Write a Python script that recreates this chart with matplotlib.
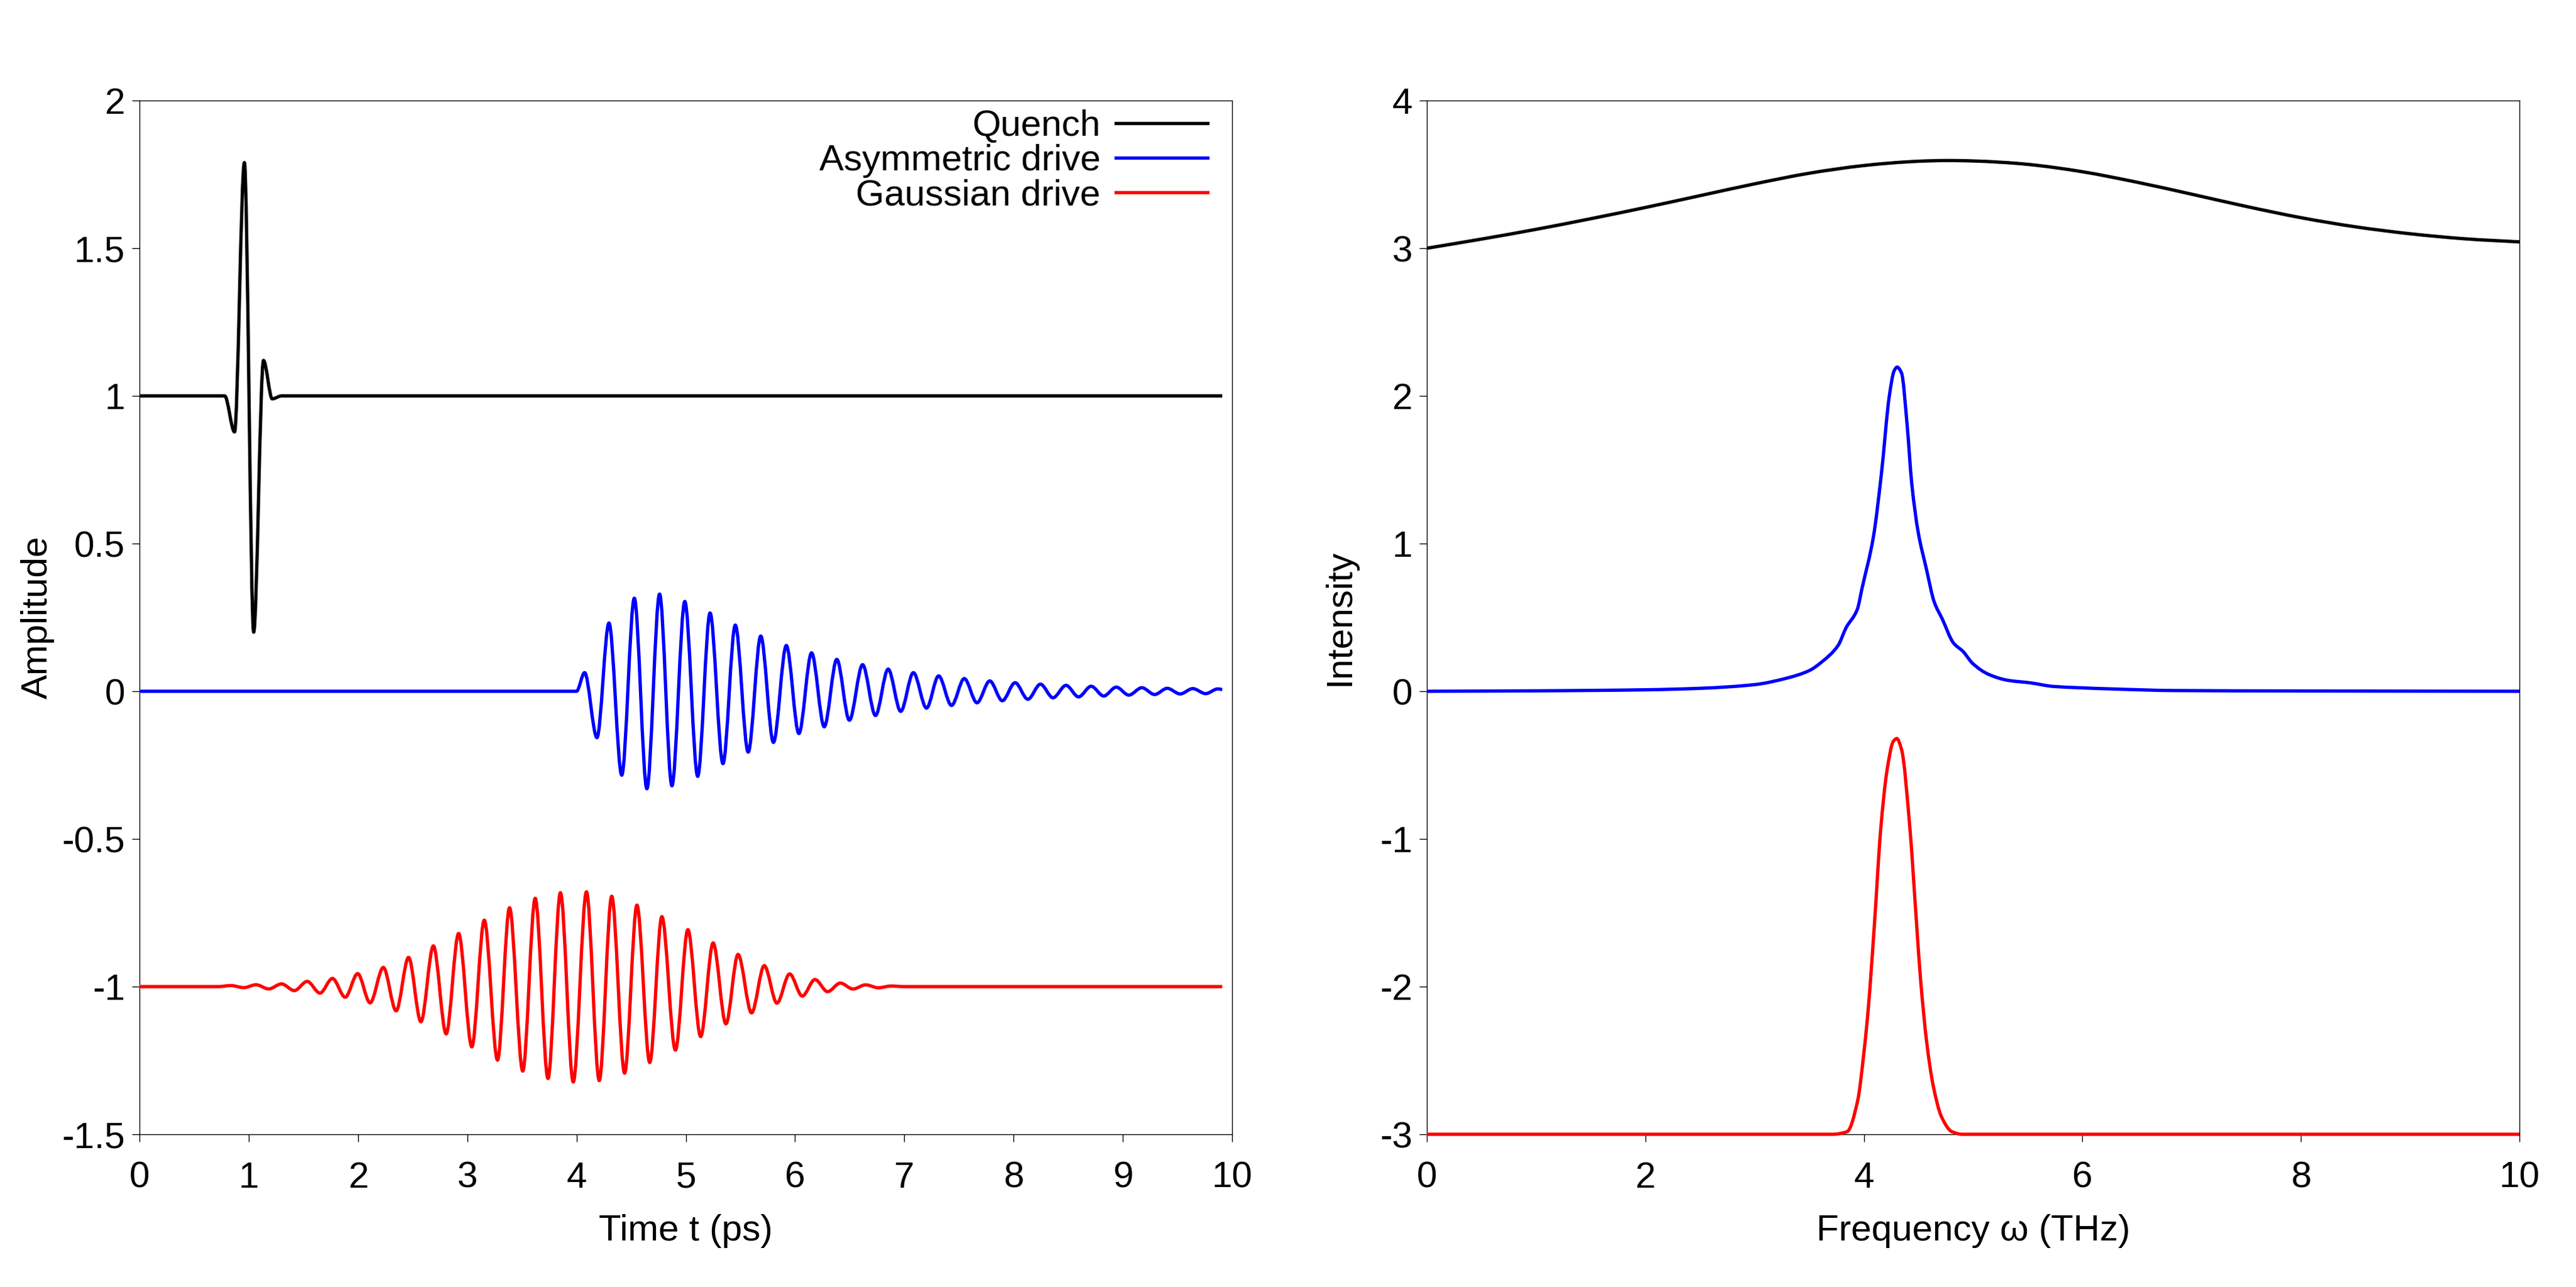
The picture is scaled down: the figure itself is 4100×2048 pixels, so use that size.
import numpy as np
import matplotlib
matplotlib.use("Agg")
import matplotlib.pyplot as plt
from matplotlib.path import Path
from matplotlib.patches import PathPatch

plt.rcParams['font.family'] = ['Liberation Sans', 'DejaVu Sans']
plt.rcParams['axes.unicode_minus'] = False

# ---- left panel: extrema of each waveform (t in ps) ----
quench_t = [0.0, 0.78, 0.87, 0.96, 1.045, 1.135, 1.215, 1.30, 9.91]
quench_v = [1.0, 1.0, 0.878, 1.79, 0.20, 1.12, 0.99, 1.0, 1.0]

asym_t = [0.0, 4.00, 4.074, 4.187, 4.297, 4.414, 4.529, 4.644, 4.760, 4.873,
          4.991, 5.109, 5.222, 5.340, 5.453, 5.571, 5.686, 5.802, 5.920, 6.035,
          6.151, 6.267, 6.382, 6.497, 6.618, 6.736, 6.852, 6.967, 7.083, 7.203,
          7.314, 7.432, 7.549, 7.665, 7.782, 7.897, 8.014, 8.131, 8.246, 8.361,
          8.480, 8.595, 8.710, 8.825, 8.940, 9.055, 9.174, 9.291, 9.406, 9.525,
          9.640, 9.758, 9.870, 9.91]
asym_v = [0.0, 0.0, 0.063, -0.157, 0.231, -0.284, 0.315, -0.330, 0.329, -0.320,
          0.304, -0.288, 0.265, -0.245, 0.224, -0.206, 0.187, -0.173, 0.155, -0.143,
          0.130, -0.120, 0.108, -0.098, 0.090, -0.082, 0.075, -0.068, 0.063, -0.057,
          0.052, -0.048, 0.043, -0.039, 0.035, -0.032, 0.029, -0.027, 0.024, -0.022,
          0.020, -0.019, 0.017, -0.016, 0.014, -0.013, 0.012, -0.011, 0.010, -0.009,
          0.009, -0.008, 0.008, 0.006]

gauss_t = [0.0, 0.72, 0.838, 0.955, 1.066, 1.183, 1.300, 1.417, 1.535, 1.652,
           1.766, 1.883, 1.997, 2.111, 2.232, 2.349, 2.463, 2.576, 2.690, 2.807,
           2.921, 3.042, 3.156, 3.277, 3.387, 3.508, 3.622, 3.739, 3.853, 3.970,
           4.091, 4.208, 4.322, 4.440, 4.553, 4.670, 4.781, 4.905, 5.019, 5.136,
           5.250, 5.367, 5.478, 5.602, 5.718, 5.834, 5.950, 6.066, 6.182, 6.298,
           6.414, 6.530, 6.646, 6.762, 6.878, 7.00, 9.91]
gauss_v = [-1.0, -1.0, -0.9965, -1.0035, -0.9936, -1.0078, -0.9908, -1.0135, -0.9823, -1.022,
           -0.9723, -1.036, -0.956, -1.055, -0.935, -1.082, -0.901, -1.119, -0.862, -1.160,
           -0.820, -1.204, -0.775, -1.249, -0.733, -1.286, -0.701, -1.311, -0.682, -1.323,
           -0.679, -1.318, -0.694, -1.293, -0.724, -1.257, -0.763, -1.215, -0.807, -1.169,
           -0.852, -1.126, -0.891, -1.089, -0.929, -1.056, -0.957, -1.032, -0.976, -1.017,
           -0.988, -1.008, -0.994, -1.004, -0.998, -1.0, -1.0]

# ---- right panel: spectra (omega in THz) ----
quench_w = [0.0, 0.5, 1.0, 1.5, 2.0, 2.5, 3.0, 3.5, 4.0, 4.5, 4.75,
            5.0, 5.5, 6.0, 6.5, 7.0, 7.5, 8.0, 8.5, 9.0, 9.5, 10.0]
quench_I = [3.000, 3.062, 3.128, 3.200, 3.276, 3.356, 3.436, 3.508, 3.560, 3.589, 3.594,
            3.591, 3.568, 3.518, 3.447, 3.366, 3.283, 3.207, 3.145, 3.098, 3.064, 3.043]

asym_w = [0.0, 1.0, 2.0, 2.5, 3.0, 3.3, 3.5, 3.617, 3.764, 3.837, 3.94, 3.984,
          4.087, 4.16, 4.233, 4.277, 4.304, 4.345, 4.395, 4.439, 4.497, 4.571,
          4.644, 4.717, 4.82, 4.908, 4.996, 5.143, 5.319, 5.524, 5.73, 5.965,
          6.26, 6.84, 8.0, 10.0]
asym_I = [0.0, 0.003, 0.01, 0.02, 0.045, 0.09, 0.14, 0.20, 0.31, 0.43, 0.555, 0.70,
          1.045, 1.47, 2.0, 2.17, 2.195, 2.154, 1.81, 1.40, 1.077, 0.832,
          0.604, 0.49, 0.327, 0.269, 0.188, 0.114, 0.074, 0.057, 0.033, 0.024,
          0.016, 0.005, 0.002, 0.0]

gauss_w = [0.0, 3.6, 3.713, 3.847, 3.943, 4.0, 4.039, 4.096, 4.154, 4.211, 4.269,
           4.301, 4.345, 4.422, 4.48, 4.518, 4.575, 4.633, 4.71, 4.805, 4.9, 10.0]
gauss_I = [-3.0, -3.0, -3.0, -2.982, -2.773, -2.449, -2.16, -1.584, -0.935, -0.54, -0.34,
           -0.32, -0.395, -0.935, -1.55, -1.944, -2.377, -2.665, -2.881, -2.982, -3.0, -3.0]

labels = ["Quench", "Asymmetric drive", "Gaussian drive"]
colors = ["black", "#0000ff", "#ff0000"]

t_ticks = list(range(0, 11))
amp_ticks = [-1.5, -1, -0.5, 0, 0.5, 1, 1.5, 2]
amp_labels = ["-1.5", "-1", "-0.5", "0", "0.5", "1", "1.5", "2"]
w_ticks = [0, 2, 4, 6, 8, 10]
int_ticks = [-3, -2, -1, 0, 1, 2, 3, 4]

LW = 1.9
FS = 21


def pchip_slopes(x, y):
    # monotone (Fritsch-Carlson) tangents, no overshoot between read points
    h = np.diff(x)
    d = np.diff(y) / h
    m = np.zeros_like(y)
    m[0], m[-1] = d[0], d[-1]
    for i in range(1, len(x) - 1):
        if d[i - 1] * d[i] > 0:
            w1 = 2 * h[i] + h[i - 1]
            w2 = h[i] + 2 * h[i - 1]
            m[i] = (w1 + w2) / (w1 / d[i - 1] + w2 / d[i])
    return m


def smooth_curve(ax, x, y, color, tangents="pchip"):
    # cubic Hermite pieces through the read points, drawn as a bezier path
    x = np.asarray(x, float)
    y = np.asarray(y, float)
    if tangents == "flat":
        m = np.zeros_like(y)
    elif tangents == "central":
        m = np.gradient(y, x)
    else:
        m = pchip_slopes(x, y)
    verts = [(x[0], y[0])]
    codes = [Path.MOVETO]
    for i in range(len(x) - 1):
        dx = x[i + 1] - x[i]
        verts += [(x[i] + dx / 3, y[i] + m[i] * dx / 3),
                  (x[i + 1] - dx / 3, y[i + 1] - m[i + 1] * dx / 3),
                  (x[i + 1], y[i + 1])]
        codes += [Path.CURVE4] * 3
    ax.add_patch(PathPatch(Path(verts, codes), fill=False, edgecolor=color,
                           lw=LW, joinstyle='round', capstyle='butt',
                           zorder=3, clip_on=False))


def style(ax):
    for s in ax.spines.values():
        s.set_linewidth(0.5)
    ax.tick_params(direction='out', length=4.3, width=0.5, labelsize=FS,
                   top=False, right=False)
    ax.tick_params(axis='x', pad=11)
    ax.tick_params(axis='y', pad=4)


fig = plt.figure(figsize=(20.5, 10.24), dpi=200)
ax1 = fig.add_axes([0.05415, 0.11865, 0.42415, 0.80322])
ax2 = fig.add_axes([0.5539, 0.11865, 0.42415, 0.80322])

# left: time traces (extrema joined with flat tangents)
smooth_curve(ax1, quench_t, quench_v, colors[0], tangents="flat")
smooth_curve(ax1, asym_t, asym_v, colors[1], tangents="flat")
smooth_curve(ax1, gauss_t, gauss_v, colors[2], tangents="flat")
for lab, c in zip(labels, colors):
    ax1.plot([], [], color=c, lw=LW, label=lab)
ax1.set_xlim(0, 10)
ax1.set_ylim(-1.5, 2)
ax1.set_xticks(t_ticks)
ax1.set_yticks(amp_ticks)
ax1.set_yticklabels(amp_labels)
ax1.set_xlabel("Time t (ps)", fontsize=FS, labelpad=11)
ax1.set_ylabel("Amplitude", fontsize=FS, labelpad=4)
style(ax1)
ax1.legend(loc="upper right", bbox_to_anchor=(0.9776, 0.9913), frameon=False,
           markerfirst=False, fontsize=FS, handlelength=2.5, handletextpad=0.42,
           labelspacing=0.02, borderaxespad=0, borderpad=0)

# right: spectra
smooth_curve(ax2, quench_w, quench_I, colors[0], tangents="central")
smooth_curve(ax2, asym_w, asym_I, colors[1])
smooth_curve(ax2, gauss_w, gauss_I, colors[2])
ax2.set_xlim(0, 10)
ax2.set_ylim(-3, 4)
ax2.set_xticks(w_ticks)
ax2.set_yticks(int_ticks)
ax2.set_xlabel("Frequency ω (THz)", fontsize=FS, labelpad=11)
ax2.set_ylabel("Intensity", fontsize=FS, labelpad=13)
style(ax2)

fig.savefig("out.png", dpi=200)
